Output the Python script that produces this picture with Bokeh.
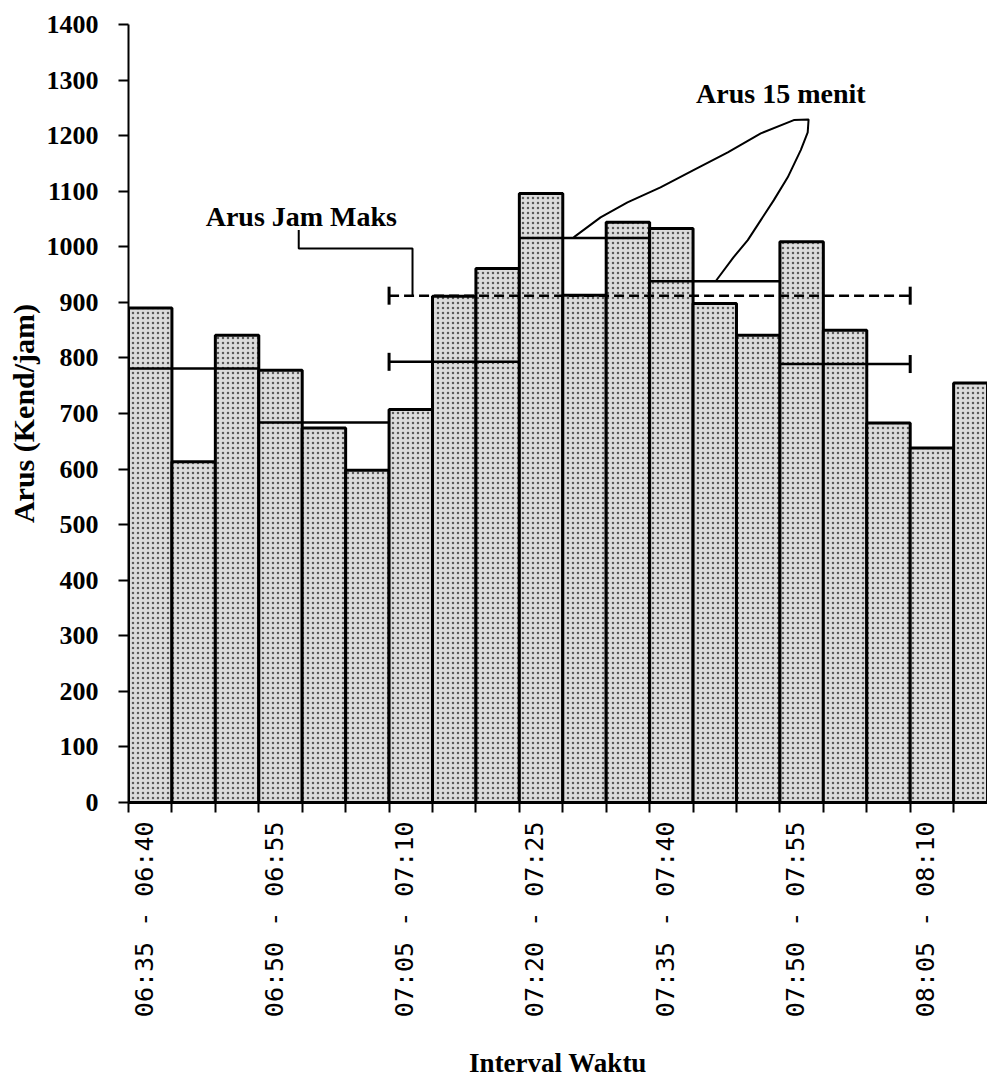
import numpy as np
from bokeh.plotting import figure
from bokeh.models import FixedTicker, Range1d, Label
from bokeh.embed import file_html
from bokeh.resources import INLINE

# ---- data ----
intervals = ["06:35 - 06:40", "06:40 - 06:45", "06:45 - 06:50", "06:50 - 06:55",
             "06:55 - 07:00", "07:00 - 07:05", "07:05 - 07:10", "07:10 - 07:15",
             "07:15 - 07:20", "07:20 - 07:25", "07:25 - 07:30", "07:30 - 07:35",
             "07:35 - 07:40", "07:40 - 07:45", "07:45 - 07:50", "07:50 - 07:55",
             "07:55 - 08:00", "08:00 - 08:05", "08:05 - 08:10", "08:10 - 08:15"]
flow = [890, 613, 841, 778, 674, 598, 707, 911, 961, 1096,
        913, 1044, 1033, 898, 841, 1009, 850, 683, 638, 755]
# 15-minute flows: first interval index of each block, and its value
q15_start = [0, 3, 6, 9, 12, 15]
q15_value = [781, 684, 793, 1016, 938, 789]
# peak hour: first and last interval index, value
peak_first, peak_last = 6, 17
peak_value = 912
label_every = 3
y_ticks = list(range(0, 1401, 100))

# ---- figure ----
x = np.arange(len(intervals))
p = figure(width=987, height=1081, output_backend="svg", toolbar_location=None,
           x_range=Range1d(-0.5, 19.28), y_range=Range1d(0, 1400),
           min_border_left=128, min_border_right=0, min_border_top=24,
           min_border_bottom=278)
p.outline_line_color = None
p.xgrid.visible = False
p.ygrid.visible = False
p.background_fill_color = "white"
p.border_fill_color = "white"

p.vbar(x=x, top=flow, bottom=0, width=1.0, fill_color="#dcdcdc",
       hatch_pattern="dot", hatch_color="#3a3a3a", hatch_scale=5, hatch_weight=1.2,
       hatch_alpha=0.8, line_color="black", line_width=3)

# 15-minute flow lines
s_idx = np.array(q15_start)
p.segment(x0=s_idx - 0.5, x1=s_idx + 2.5, y0=q15_value, y1=q15_value,
          line_color="black", line_width=2.5)

# peak-hour flow (dashed)
p.segment(x0=[peak_first - 0.5], x1=[peak_last + 0.5], y0=[peak_value], y1=[peak_value],
          line_color="black", line_width=2.5, line_dash="10 5")
# end caps
p.scatter(x=[peak_first - 0.5, peak_last + 0.5, peak_first - 0.5, peak_last + 0.5],
          y=[peak_value, peak_value, q15_value[2], q15_value[5]],
          marker="dash", angle=np.pi / 2, size=18, line_color="black", line_width=3)

# callouts
p.line(x=[3.42, 3.42, 6.04, 6.04], y=[1030, 997, 997, 913], line_color="black", line_width=2)
loop_x = [9.75, 10.37, 10.99, 11.75, 12.51, 13.30, 14.06, 14.82, 15.16,
          15.14, 14.98, 14.68, 14.36, 14.06, 13.76, 13.43, 13.02]
loop_y = [1017, 1053, 1080, 1107, 1138, 1170, 1204, 1228, 1229,
          1206, 1174, 1125, 1084, 1048, 1012, 981, 938]
p.line(x=loop_x, y=loop_y, line_color="black", line_width=2)

p.add_layout(Label(x=3.48, y=1055, text="Arus Jam Maks", text_align="center",
                   text_baseline="middle", text_font="Liberation Serif",
                   text_color="black",
                   text_font_style="bold", text_font_size="28px"))
p.add_layout(Label(x=14.52, y=1276, text="Arus 15 menit", text_align="center",
                   text_baseline="middle", text_font="Liberation Serif",
                   text_color="black",
                   text_font_style="bold", text_font_size="28px"))

# axes
label_shift = -0.14
label_pos = [float(i) + label_shift for i in x[::label_every]]
xa = p.xaxis[0]
xa.ticker = FixedTicker(ticks=label_pos,
                        minor_ticks=list(np.arange(-0.5, len(intervals) + 0.5, 1.0)))
xa.major_label_overrides = {pos: intervals[int(i)] for pos, i in zip(label_pos, x[::label_every])}
xa.major_label_orientation = np.pi / 2
xa.major_label_text_font = "DejaVu Sans Mono"
xa.major_label_text_font_size = "25px"
xa.major_label_text_color = "black"
xa.major_label_standoff = 9
xa.major_tick_out = 0
xa.major_tick_in = 0
xa.minor_tick_out = 10
xa.minor_tick_in = 0
xa.minor_tick_line_width = 2
xa.minor_tick_line_color = "black"
xa.axis_line_width = 3
xa.axis_line_color = "black"
xa.axis_label = "Interval Waktu"
xa.axis_label_text_font = "Liberation Serif"
xa.axis_label_text_font_style = "bold"
xa.axis_label_text_font_size = "27px"
xa.axis_label_text_color = "black"
xa.axis_label_standoff = 28

ya = p.yaxis[0]
ya.ticker = FixedTicker(ticks=y_ticks)
ya.major_label_text_font = "Liberation Serif"
ya.major_label_text_font_style = "bold"
ya.major_label_text_font_size = "26px"
ya.major_label_text_color = "black"
ya.major_label_standoff = 20
ya.major_tick_out = 10
ya.major_tick_in = 0
ya.major_tick_line_width = 2
ya.minor_tick_out = 0
ya.minor_tick_in = 0
ya.axis_line_width = 2
ya.axis_label = "Arus (Kend/jam)"
ya.axis_label_text_font = "Liberation Serif"
ya.axis_label_text_font_style = "bold"
ya.axis_label_text_font_size = "30px"
ya.axis_label_text_color = "black"
ya.axis_label_standoff = 4

open("out.html", "w").write(file_html(p, INLINE))
